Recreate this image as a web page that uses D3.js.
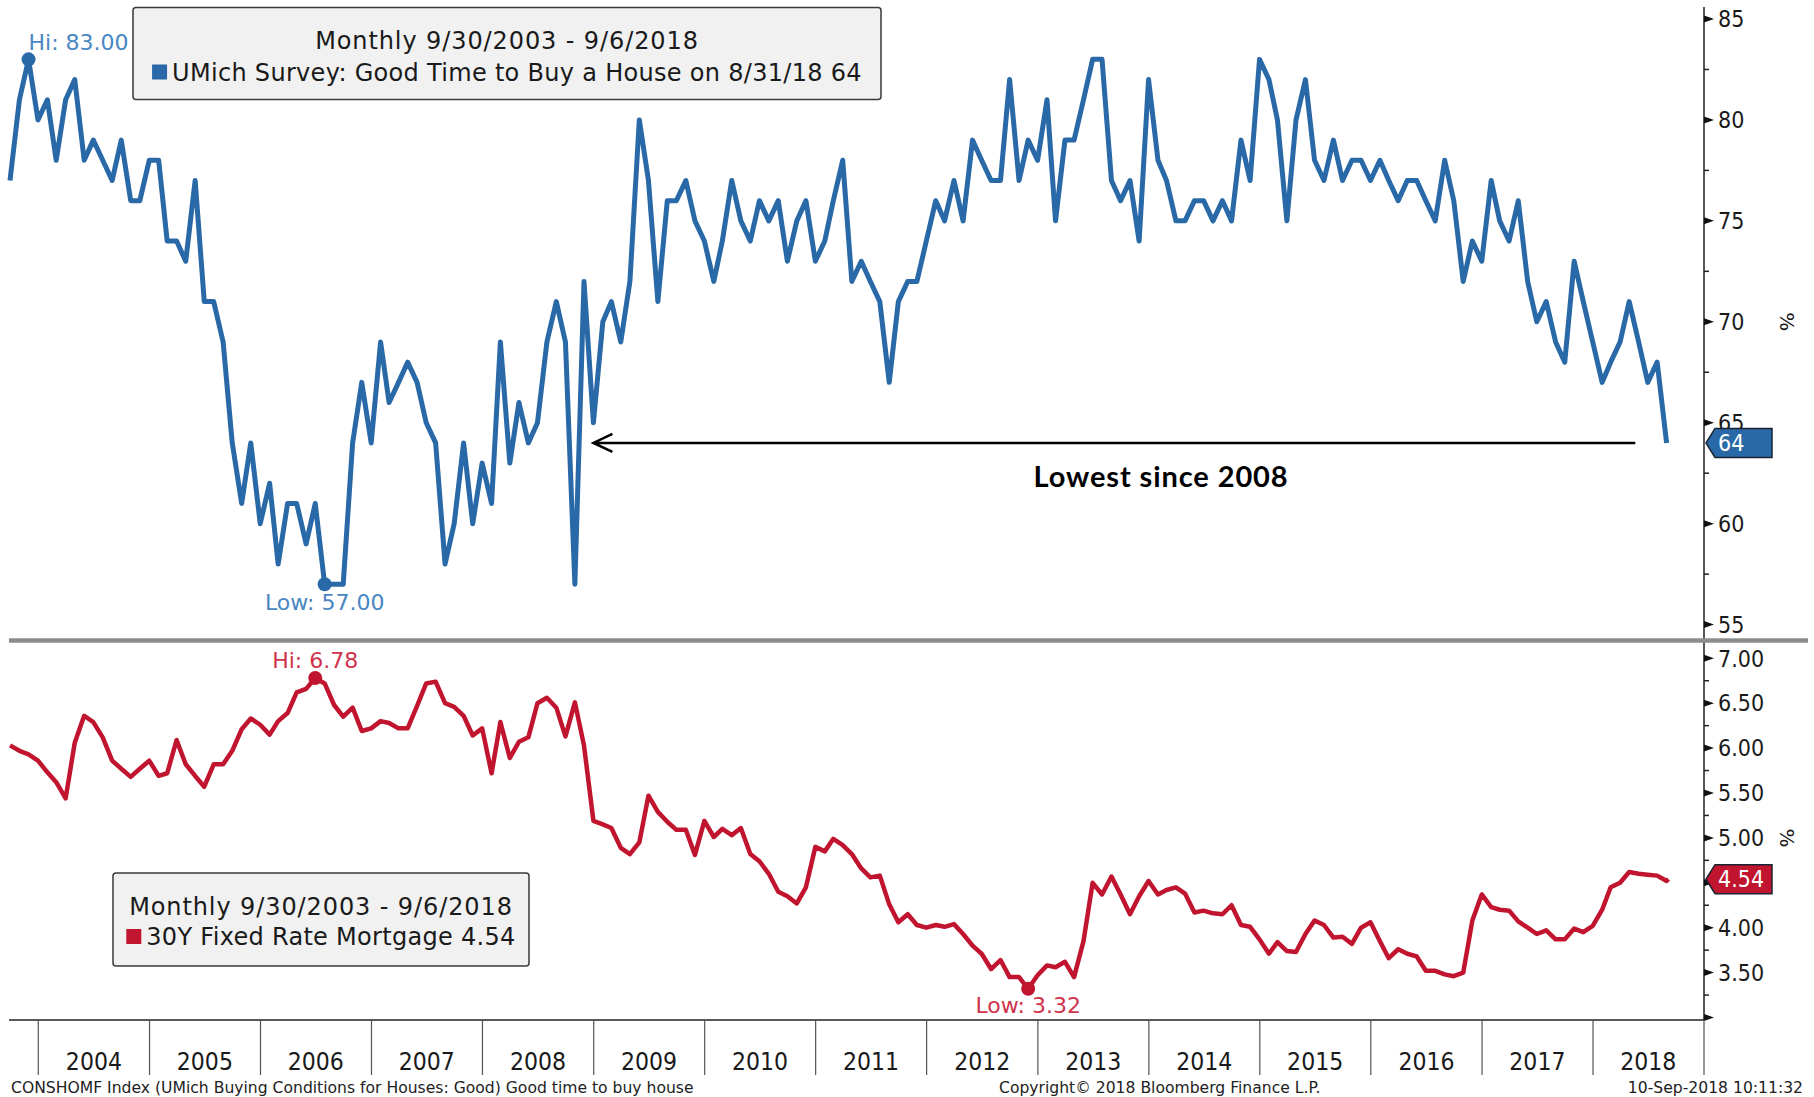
<!DOCTYPE html>
<html>
<head>
<meta charset="utf-8">
<script src="https://cdnjs.cloudflare.com/ajax/libs/d3/7.8.5/d3.min.js"></script>
<style>
body { margin: 0; background: #fff; }
text { font-family: "DejaVu Sans", sans-serif; }
text.narrow { font-family: "DejaVu Sans Condensed", "DejaVu Sans", sans-serif; font-stretch: condensed; }
text.note { font-family: Lato, "Liberation Sans", sans-serif; font-weight: bold; }
</style>
</head>
<body>
<script>
// UMich "good time to buy a house", monthly from 9/30/2003 to 8/31/2018
var goodTime = [
	77,81,83,80,81,78,81,82,78,79,78,77,
	79,76,76,78,78,74,74,73,77,71,71,69,
	64,61,64,60,62,58,61,61,59,61,57,57,
	57,64,67,64,69,66,67,68,67,65,64,58,
	60,64,60,63,61,69,63,66,64,65,69,71,
	69,57,72,65,70,71,69,72,80,77,71,76,
	76,77,75,74,72,74,77,75,74,76,75,76,
	73,75,76,73,74,76,78,72,73,72,71,67,
	71,72,72,74,76,75,77,75,79,78,77,77,
	82,77,79,78,81,75,79,79,81,83,83,77,
	76,77,74,82,78,77,75,75,76,76,75,76,
	75,79,77,83,82,80,75,80,82,78,77,79,
	77,78,78,77,78,77,76,77,77,76,75,78,
	76,72,74,73,77,75,74,76,72,70,71,69,
	68,73,71,69,67,68,69,71,69,67,68,64];

// 30Y fixed rate mortgage, same months plus 9/6/2018
var mortgage = [
	6.03,5.97,5.93,5.86,5.73,5.62,5.44,6.06,6.36,6.29,6.12,5.86,
	5.77,5.68,5.77,5.86,5.69,5.72,6.09,5.82,5.69,5.57,5.82,5.82,
	5.97,6.21,6.33,6.26,6.15,6.30,6.39,6.62,6.66,6.78,6.72,6.48,
	6.35,6.45,6.19,6.22,6.30,6.28,6.22,6.22,6.47,6.72,6.74,6.50,
	6.46,6.36,6.14,6.22,5.72,6.29,5.89,6.07,6.12,6.50,6.56,6.45,
	6.13,6.51,6.03,5.19,5.15,5.11,4.89,4.82,4.95,5.47,5.29,5.18,
	5.09,5.09,4.81,5.19,5.01,5.10,5.03,5.11,4.82,4.74,4.60,4.40,
	4.35,4.27,4.45,4.90,4.85,4.99,4.92,4.82,4.66,4.56,4.58,4.26,
	4.06,4.15,4.03,4.00,4.03,4.01,4.04,3.93,3.80,3.71,3.54,3.64,
	3.45,3.45,3.32,3.47,3.58,3.56,3.62,3.45,3.85,4.50,4.37,4.57,
	4.37,4.15,4.35,4.52,4.37,4.42,4.45,4.38,4.17,4.19,4.16,4.15,
	4.25,4.03,4.01,3.87,3.71,3.84,3.74,3.73,3.93,4.08,4.03,3.89,
	3.90,3.82,4.00,4.06,3.85,3.66,3.76,3.71,3.68,3.52,3.52,3.48,
	3.46,3.50,4.08,4.37,4.23,4.20,4.19,4.07,4.00,3.93,3.97,3.87,
	3.87,3.99,3.95,4.02,4.20,4.45,4.50,4.62,4.60,4.59,4.58,4.52,
	4.54];

var topTicks = [55, 60, 65, 70, 75, 80, 85];
var bottomTicks = [3.0, 3.5, 4.0, 4.5, 5.0, 5.5, 6.0, 6.5, 7.0];
var bottomLabels = ["", "3.50", "4.00", "", "5.00", "5.50", "6.00", "6.50", "7.00"];
var years = ["2004","2005","2006","2007","2008","2009","2010","2011","2012","2013","2014","2015","2016","2017","2018"];

var topTitle = "Monthly 9/30/2003 - 9/6/2018";
var topName = "UMich Survey: Good Time to Buy a House on 8/31/18 64";
var bottomTitle = "Monthly 9/30/2003 - 9/6/2018";
var bottomName = "30Y Fixed Rate Mortgage 4.54";

var blue = "#2a69a7", blueText = "#4a86c2";
var red = "#c0142f", redText = "#d0344c";

var monthEnds = d3.range(goodTime.length).map(function (i) { return new Date(2003, 9 + i, 0); });
var rateDates = monthEnds.concat([new Date(2018, 8, 6)]);
var topData = goodTime.map(function (v, i) { return {date: monthEnds[i], value: v}; });
var botData = mortgage.map(function (v, i) { return {date: rateDates[i], value: v}; });

var svg = d3.select("body")
	.append("svg")
	.attr("width", 1814)
	.attr("height", 1097);

var axisX = 1704;
var x = d3.scaleTime()
	.domain([new Date(2003, 8, 30), new Date(2019, 0, 1)])
	.range([10, axisX]);
var yTop = d3.scaleLinear().domain([55, 85]).range([624.6, 19]);
var yBot = d3.scaleLinear().domain([3, 7]).range([1017.5, 658.3]);

// right axis
svg.append("line")
	.attr("x1", axisX).attr("x2", axisX)
	.attr("y1", 7).attr("y2", 1020)
	.attr("stroke", "#222").attr("stroke-width", 1.5);

function drawTicks(scale, majors, labels, step) {
	var minors = majors.slice(0, -1).map(function (v) { return v + step / 2; });
	svg.selectAll(null).data(minors).enter()
		.append("line")
		.attr("x1", axisX).attr("x2", axisX + 5)
		.attr("y1", scale).attr("y2", scale)
		.attr("stroke", "#222").attr("stroke-width", 1.5);
	svg.selectAll(null).data(majors).enter()
		.append("path")
		.attr("d", function (v) { var y = scale(v); return "M" + axisX + "," + (y - 3.5) + " L" + (axisX + 10) + "," + y + " L" + axisX + "," + (y + 3.5) + " Z"; })
		.attr("fill", "#111");
	svg.selectAll(null).data(majors).enter()
		.append("text")
		.classed("narrow", true)
		.attr("x", axisX + 14)
		.attr("y", scale)
		.attr("dy", "0.36em")
		.attr("font-size", 23)
		.attr("fill", "#1a1a1a")
		.text(function (v, i) { return labels[i]; });
}
drawTicks(yTop, topTicks, topTicks.map(String), 5);
drawTicks(yBot, bottomTicks, bottomLabels, 0.5);

svg.selectAll(null).data([yTop(70), yBot(5)]).enter()
	.append("text")
	.attr("transform", function (y) { return "translate(1780," + y + ") rotate(90)"; })
	.attr("text-anchor", "middle")
	.attr("font-size", 20)
	.attr("fill", "#1a1a1a")
	.text("%");

// panel separator
svg.append("line")
	.attr("x1", 9).attr("x2", 1808)
	.attr("y1", 640.5).attr("y2", 640.5)
	.attr("stroke", "#8c8c8c").attr("stroke-width", 4.5);

// x axis
svg.append("line")
	.attr("x1", 9).attr("x2", axisX)
	.attr("y1", 1020).attr("y2", 1020)
	.attr("stroke", "#222").attr("stroke-width", 1.5);
svg.selectAll(null).data(d3.timeYear.range(new Date(2004, 0, 1), new Date(2019, 0, 2))).enter()
	.append("line")
	.attr("x1", x).attr("x2", x)
	.attr("y1", 1020).attr("y2", 1075)
	.attr("stroke", "#555").attr("stroke-width", 1.2);
svg.selectAll(null).data(years).enter()
	.append("text")
	.classed("narrow", true)
	.attr("x", function (yr) { return x(new Date(+yr, 6, 2)); })
	.attr("y", 1070)
	.attr("text-anchor", "middle")
	.attr("font-size", 24.5)
	.attr("fill", "#1a1a1a")
	.text(function (yr) { return yr; });

// series
svg.append("path")
	.datum(topData)
	.attr("d", d3.line().x(function (d) { return x(d.date); }).y(function (d) { return yTop(d.value); }))
	.attr("fill", "none")
	.attr("stroke", blue)
	.attr("stroke-width", 5)
	.attr("stroke-linejoin", "round");
svg.append("path")
	.datum(botData)
	.attr("d", d3.line().x(function (d) { return x(d.date); }).y(function (d) { return yBot(d.value); }))
	.attr("fill", "none")
	.attr("stroke", red)
	.attr("stroke-width", 4.5)
	.attr("stroke-linejoin", "round");

// hi / low markers
function marker(data, scale, idx, label, color, textColor, dy, fmt) {
	var d = data[idx];
	var cx = x(d.date), cy = scale(d.value);
	svg.append("circle").attr("cx", cx).attr("cy", cy).attr("r", 7).attr("fill", color);
	var t = svg.append("text")
		.attr("x", cx)
		.attr("y", cy + dy)
		.attr("text-anchor", "middle")
		.attr("font-size", 22)
		.attr("fill", textColor)
		.text(label + fmt(d.value));
	if (cx - t.node().getComputedTextLength() / 2 < 12) t.attr("text-anchor", "start");
}
var f2 = d3.format(".2f");
marker(topData, yTop, d3.maxIndex(goodTime), "Hi: ", blue, blueText, -9, f2);
marker(topData, yTop, d3.minIndex(goodTime), "Low: ", blue, blueText, 26, f2);
marker(botData, yBot, d3.maxIndex(mortgage), "Hi: ", red, redText, -10, f2);
marker(botData, yBot, d3.minIndex(mortgage), "Low: ", red, redText, 24, f2);

// last value tags
function tag(scale, v, label, color) {
	var y = scale(v);
	svg.append("path")
		.attr("d", "M" + (axisX + 2) + "," + y + " L" + (axisX + 11) + "," + (y - 14.5) + " L" + (axisX + 68) + "," + (y - 14.5) +
			" L" + (axisX + 68) + "," + (y + 14.5) + " L" + (axisX + 11) + "," + (y + 14.5) + " Z")
		.attr("fill", color)
		.attr("stroke", "#1b2433").attr("stroke-width", 1.5);
	svg.append("text")
		.classed("narrow", true)
		.attr("x", axisX + 14)
		.attr("y", y)
		.attr("dy", "0.36em")
		.attr("font-size", 23)
		.attr("fill", "#fff")
		.text(label);
}
tag(yTop, goodTime[goodTime.length - 1], "64", blue);
tag(yBot, mortgage[mortgage.length - 1], "4.54", red);

// annotation arrow
var arrowY = yTop(goodTime[goodTime.length - 1]);
var arrowX1 = x(monthEnds[63]), arrowX2 = x(new Date(2018, 4, 20));
svg.append("path")
	.attr("d", "M" + arrowX2 + "," + arrowY + " L" + arrowX1 + "," + arrowY +
		" M" + (arrowX1 + 19) + "," + (arrowY - 9) + " L" + arrowX1 + "," + arrowY + " L" + (arrowX1 + 19) + "," + (arrowY + 9))
	.attr("fill", "none")
	.attr("stroke", "#000")
	.attr("stroke-width", 2.5);
svg.append("text")
	.classed("note", true)
	.attr("x", 1161)
	.attr("y", arrowY + 44)
	.attr("text-anchor", "middle")
	.attr("font-size", 29)
	.attr("letter-spacing", 0.9)
	.attr("fill", "#000")
	.text("Lowest since 2008");

// legends
function legend(bx, by, bw, bh, title, name, color, base1, base2) {
	var cx = bx + bw / 2;
	svg.append("rect")
		.attr("x", bx).attr("y", by).attr("width", bw).attr("height", bh)
		.attr("rx", 3).attr("ry", 3)
		.attr("fill", "#f1f1f1").attr("stroke", "#3a3a3a").attr("stroke-width", 1.5);
	svg.append("text")
		.attr("x", cx).attr("y", by + base1)
		.attr("text-anchor", "middle")
		.attr("font-size", 24)
		.attr("letter-spacing", 0.9)
		.attr("fill", "#1a1a1a")
		.text(title);
	var t = svg.append("text")
		.attr("y", by + base2)
		.attr("font-size", 24)
		.attr("letter-spacing", 0.3)
		.attr("fill", "#1a1a1a")
		.text(name);
	var w = t.node().getComputedTextLength() + 20;
	var left = cx - w / 2;
	t.attr("x", left + 20);
	svg.append("rect")
		.attr("x", left).attr("y", by + base2 - 16)
		.attr("width", 15).attr("height", 15)
		.attr("fill", color);
}
legend(133, 7.5, 748, 92, topTitle, topName, blue, 41, 73);
legend(113, 873, 416, 93, bottomTitle, bottomName, red, 42, 72);

// footer
svg.append("text")
	.attr("x", 11).attr("y", 1093)
	.attr("font-size", 15.6).attr("fill", "#222")
	.text("CONSHOMF Index (UMich Buying Conditions for Houses: Good) Good time to buy house");
svg.append("text")
	.attr("x", 999).attr("y", 1093)
	.attr("font-size", 15.6).attr("fill", "#222")
	.text("Copyright\u00a9 2018 Bloomberg Finance L.P.");
svg.append("text")
	.attr("x", 1803).attr("y", 1093)
	.attr("text-anchor", "end")
	.attr("font-size", 15.6).attr("fill", "#222")
	.text("10-Sep-2018 10:11:32");
</script>
</body>
</html>
